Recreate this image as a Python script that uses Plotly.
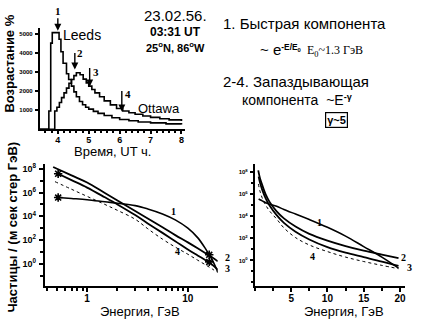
import plotly.graph_objects as go

W, H = 424, 323
def fx(p): return p / W
def fy(p): return 1 - p / H

# ---------------- top panel: increase, % vs time (UT h) ----------------
leeds_t = [3.42, 3.71, 3.77, 3.82, 4.04, 4.10, 4.17, 4.28, 4.35, 4.44, 4.52, 4.60, 4.70,
           4.80, 4.90, 5.00, 5.15, 5.30, 5.50, 5.75, 6.00, 6.30, 6.60, 7.00, 7.50, 8.00]
leeds_v = [0, 950, 4500, 5050, 4700, 4050, 3450, 2900, 2600, 2250, 1950, 1700, 1450,
           1280, 1150, 1050, 930, 830, 720, 600, 510, 440, 380, 330, 280, 250]
ottawa_t = [3.42, 3.90, 3.97, 4.05, 4.12, 4.20, 4.28, 4.36, 4.44, 4.52, 4.60, 4.72, 4.82,
            4.92, 5.00, 5.10, 5.20, 5.35, 5.50, 5.70, 5.90, 6.10, 6.30, 6.50, 6.75, 7.00,
            7.30, 7.60, 8.00]
ottawa_v = [0, 950, 1150, 1400, 1650, 1900, 2150, 2400, 2600, 2800, 2950, 2850, 2620,
            2420, 2250, 2080, 1900, 1700, 1480, 1270, 1080, 950, 860, 780, 690, 620,
            550, 490, 430]
arrow_t = [4.0, 4.55, 5.03, 6.07]
arrow_tip = [5150, 3120, 2230, 930]
arrow_len = [14, 18, 20, 22]
arrow_lbl = ["1", "2", "3", "4"]

# ---------------- spectra (log10 of flux) ----------------
E1 = [0.516, 0.7, 1.0, 1.5, 2.0, 3.0, 4.0, 5.6, 7.5, 10, 12.5, 15, 17.5, 19.8]
lg1 = [5.58, 5.5, 5.4, 5.22, 5.1, 4.9, 4.62, 4.2, 3.7, 3.0, 2.2, 1.25, 0.3, -0.7]
E2 = [0.46, 0.7, 1.0, 1.5, 2.0, 3.0, 4.0, 5.6, 7.5, 10, 12.5, 15, 17.5, 19.8]
lg2 = [8.16, 7.45, 6.85, 5.96, 5.33, 4.44, 3.81, 3.07, 2.41, 1.8, 1.3, 0.88, 0.52, 0.2]
E3 = [0.516, 0.7, 1.0, 1.5, 2.0, 3.0, 4.0, 5.6, 7.5, 10, 12.5, 15, 17.5, 19.8]
lg3 = [7.59, 7.05, 6.42, 5.6, 5.0, 4.1, 3.4, 2.6, 1.9, 1.2, 0.7, 0.3, -0.1, -0.5]
E4 = [0.48, 0.7, 1.0, 1.5, 2.0, 3.0, 4.0, 5.6, 7.5, 10, 12.5, 15, 17.5, 19.8]
lg4 = [6.92, 6.28, 5.68, 5.0, 4.5, 3.75, 2.95, 2.07, 1.4, 0.8, 0.3, -0.1, -0.45, -0.75]
mark_E = [0.516, 0.516, 16.3, 16.3]
mark_lg = [7.59, 5.58, 0.75, 0.15]

fig = go.Figure()
BLK = "black"
# top panel
fig.add_trace(go.Scatter(x=leeds_t, y=leeds_v, mode="lines", line=dict(color=BLK, width=1.6, shape="hv"),
                         xaxis="x", yaxis="y", showlegend=False))
fig.add_trace(go.Scatter(x=ottawa_t, y=ottawa_v, mode="lines", line=dict(color=BLK, width=1.6, shape="hv"),
                         xaxis="x", yaxis="y", showlegend=False))

curves = [(E1, lg1, dict(color=BLK, width=1.6, shape="spline")),
          (E2, lg2, dict(color=BLK, width=1.8, shape="spline")),
          (E3, lg3, dict(color=BLK, width=1.8, shape="spline")),
          (E4, lg4, dict(color=BLK, width=1, dash="dot", shape="spline"))]
for xa, ya in (("x2", "y2"), ("x3", "y3")):
    for E, lg, ln in curves:
        fig.add_trace(go.Scatter(x=E, y=[10 ** v for v in lg], mode="lines", line=ln,
                                 xaxis=xa, yaxis=ya, showlegend=False))
fig.add_trace(go.Scatter(x=mark_E, y=[10 ** v for v in mark_lg], mode="markers",
                         marker=dict(symbol="asterisk", size=7, color=BLK, line=dict(width=1.6, color=BLK)),
                         xaxis="x2", yaxis="y2", showlegend=False))

axis_common = dict(showline=True, linecolor=BLK, linewidth=2, ticks="outside", tickcolor=BLK,
                   tickwidth=1.5, showgrid=False, zeroline=False, mirror=False)
bold = dict(family="Liberation Sans, Arial", color=BLK, weight="bold")

fig.update_layout(
    width=W, height=H, margin=dict(l=0, r=0, t=0, b=0),
    paper_bgcolor="white", plot_bgcolor="white", showlegend=False,
    xaxis=dict(domain=[fx(40), fx(185)], range=[3.42, 8.1], anchor="y",
               tickvals=[4, 5, 6, 7, 8], ticklen=3, tickfont=dict(size=9, **bold), ticklabelstandoff=-2,
               minor=dict(dtick=0.2, ticks="outside", ticklen=2, tickcolor=BLK), **axis_common),
    yaxis=dict(domain=[fy(128), fy(26)], range=[0, 5300], anchor="x",
               tickvals=[1000, 2000, 3000, 4000, 5000], ticklen=3, tickfont=dict(size=6, **bold),
               ticklabelstandoff=1, **axis_common),
    xaxis2=dict(domain=[fx(45), fx(218.3)], type="log", range=[-0.419, 1.297], anchor="y2",
                tickvals=[1, 10], ticktext=["1", "10"], ticklen=4, tickfont=dict(size=10, **bold),
                ticklabelstandoff=-2,
                minor=dict(tickvals=[0.4, 0.5, 0.6, 0.7, 0.8, 0.9, 2, 3, 4, 5, 6, 7, 8, 9],
                           ticks="outside", ticklen=3, tickcolor=BLK), **axis_common),
    yaxis2=dict(domain=[fy(286), fy(163)], type="log", range=[-1.9, 8.41], anchor="x2",
                tickvals=[1, 1e2, 1e4, 1e6, 1e8],
                ticktext=["10<sup>0</sup>", "10<sup>2</sup>", "10<sup>4</sup>", "10<sup>6</sup>", "10<sup>8</sup>"],
                ticklen=4, tickfont=dict(size=9, **bold), ticklabelstandoff=1,
                minor=dict(tickvals=[0.1, 10, 1e3, 1e5, 1e7], ticks="outside", ticklen=3, tickcolor=BLK),
                **axis_common),
    xaxis3=dict(domain=[fx(255.5), fx(406)], range=[0, 20.7], anchor="y3",
                tickvals=[5, 10, 15, 20], ticklen=4, tickfont=dict(size=10, **bold), ticklabelstandoff=-2,
                minor=dict(dtick=2.5, tick0=0, ticks="outside", ticklen=3, tickcolor=BLK), **axis_common),
    yaxis3=dict(domain=[fy(286), fy(163)], type="log", range=[-2.34, 8.74], anchor="x3",
                tickvals=[1, 1e2, 1e4, 1e6, 1e8],
                ticktext=["10<sup>0</sup>", "10<sup>2</sup>", "10<sup>4</sup>", "10<sup>6</sup>", "10<sup>8</sup>"],
                ticklen=3, tickfont=dict(size=6, **bold), ticklabelstandoff=1,
                minor=dict(tickvals=[0.01, 0.1, 10, 1e3, 1e5, 1e7], ticks="outside", ticklen=2, tickcolor=BLK),
                **axis_common),
)

ann = []
def txt(x, y, s, size, xanchor="center", family="Liberation Sans, Arial", weight="normal", angle=0, **kw):
    ann.append(dict(x=fx(x), y=fy(y), xref="paper", yref="paper", text=s, showarrow=False,
                    xanchor=xanchor, yanchor="middle", textangle=angle,
                    font=dict(size=size, family=family, color=BLK, weight=weight), **kw))

# arrows on top panel
for t, tip, L in zip(arrow_t, arrow_tip, arrow_len):
    ann.append(dict(x=t, y=tip, xref="x", yref="y", ax=0, ay=-L, text="", showarrow=True,
                    arrowhead=2, arrowsize=1, arrowwidth=1.4, arrowcolor=BLK))
lbl_pos = [(58.5, 9), (80.5, 51), (96.5, 70), (128.5, 93)]
for (x, y), s in zip(lbl_pos, arrow_lbl):
    txt(x, y, s, 11, family="Liberation Serif, Times New Roman", weight="bold")

txt(82, 33, "Leeds", 14)
txt(159, 107, "Ottawa", 13)
txt(10, 62, "Возрастание %", 13, weight="bold", angle=-90)
txt(113, 150, "Время, UT ч.", 13)

txt(176, 14, "23.02.56.", 15)
txt(176, 30, "03:31 UT", 12, weight="bold")
txt(176, 45, "25<sup>o</sup>N, 86<sup>o</sup>W", 11, weight="bold")

txt(222, 22, "1. Быстрая компонента", 15, xanchor="left")
txt(259, 48, "~ e<span style='font-size:12px'><sup><b>-E/E<sub>0</sub></b></sup></span>", 15, xanchor="left")
txt(306, 49, "E<sub>0</sub>~1.3 ГэВ", 12, xanchor="left", family="Liberation Serif, Times New Roman")
txt(222, 80, "2-4. Запаздывающая", 15, xanchor="left")
txt(241, 99, "компонента  ~E<span style='font-size:13px'><sup><b>-γ</b></sup></span>", 14, xanchor="left")
ann.append(dict(x=fx(337.5), y=fy(119), xref="paper", yref="paper", text="γ~5", showarrow=False,
                font=dict(size=11, family="Liberation Sans, Arial", color=BLK, weight="bold"),
                bordercolor=BLK, borderwidth=1.2, borderpad=1, xanchor="center", yanchor="middle"))

# bottom panels labels
txt(13, 226, "Частицы / (м сек стер ГэВ)", 13, weight="bold", angle=-90)
txt(140, 311, "Энергия, ГэВ", 13)
txt(345, 311, "Энергия, ГэВ", 13)

serif = "Liberation Serif, Times New Roman"
for x, y, s in [(173.5, 211, "1"), (177.5, 251, "4"), (228, 257, "2"), (228, 268.5, "3"),
                (320, 222, "1"), (313.5, 256, "4"), (404.5, 257, "2"), (410, 267, "3")]:
    txt(x, y, s, 10, family=serif, weight="bold")

fig.update_layout(annotations=ann)
fig.write_html("out.html", config={"displayModeBar": False},
               post_script="document.body.style.margin='0';document.body.style.padding='0';")
